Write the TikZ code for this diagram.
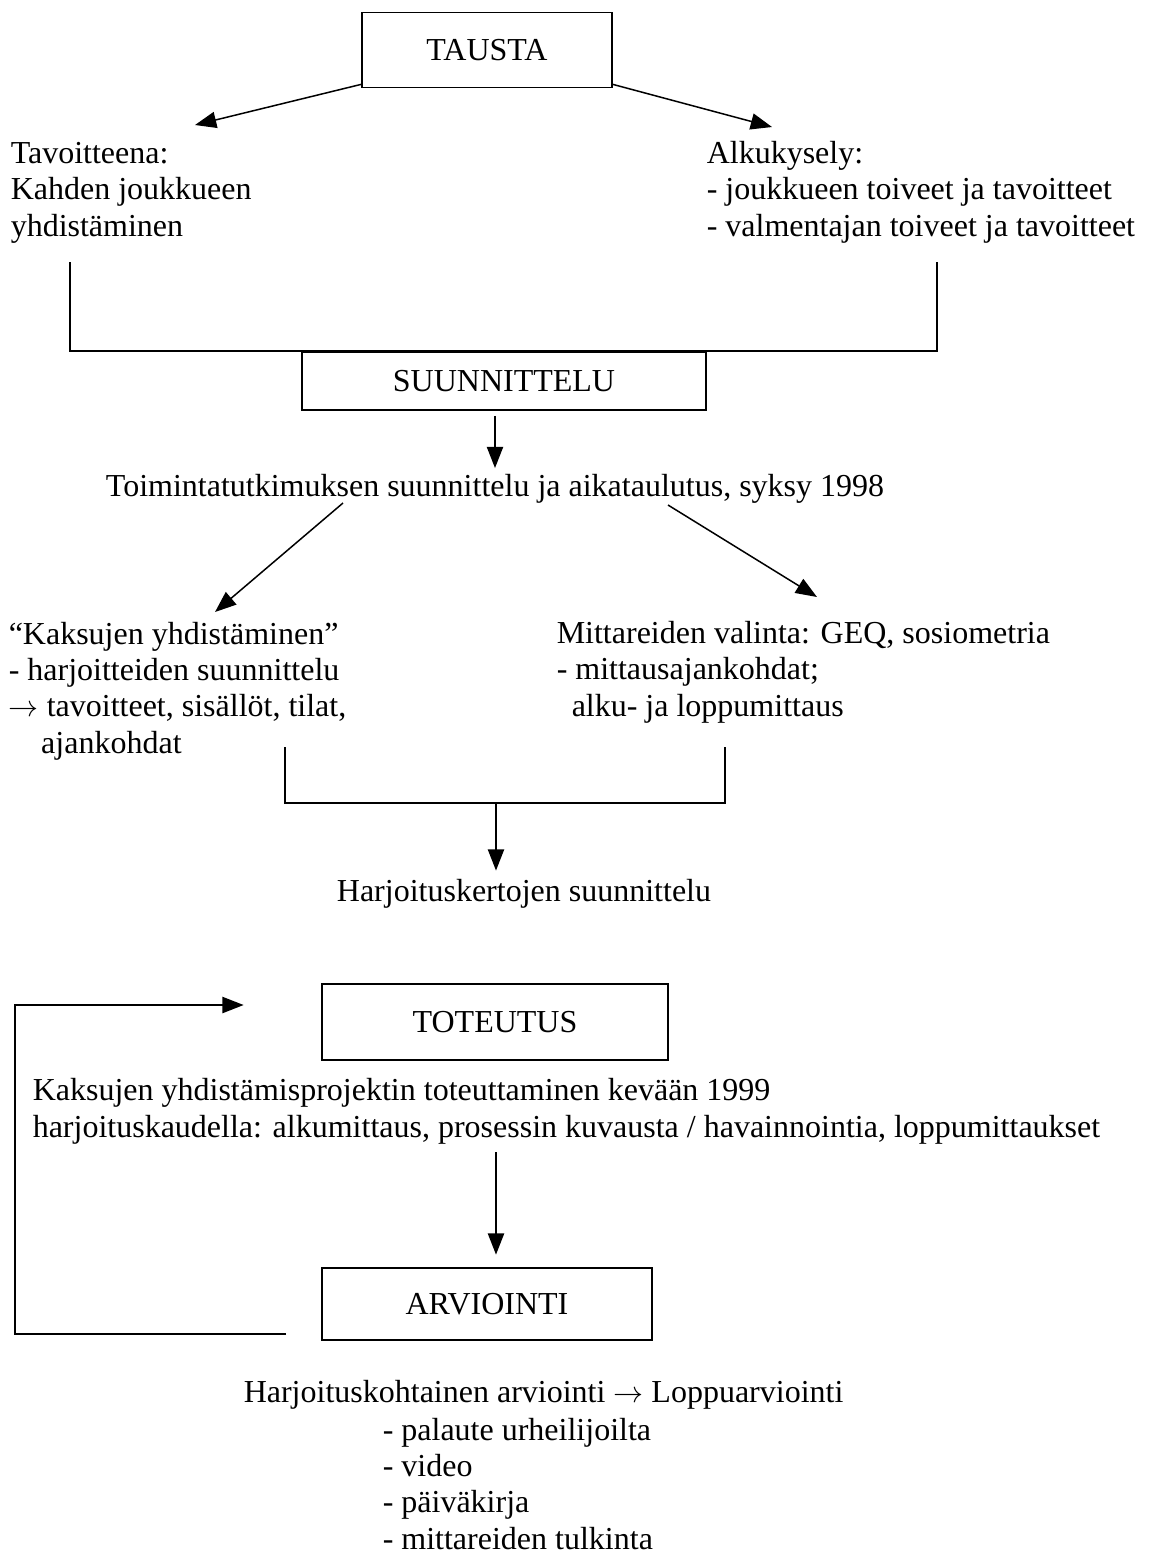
\documentclass[tikz,border=0pt]{standalone}
\usepackage{fontspec}
\setmainfont{Liberation Serif}
\usetikzlibrary{arrows.meta}

\begin{document}
\begin{tikzpicture}
[x=0.4pt,y=-0.4pt,line width=0.6pt,%
  >={Triangle[length=8.5pt,width=6.5pt]},%
  every node/.style={inner sep=0pt},%
  vaihe/.style={draw,line width=0.7pt,shape=rectangle},%
  teksti/.style={align=left,anchor=base west}]
\fontsize{12.8}{14.5}\selectfont
\useasboundingbox (0,0) rectangle (1150,1556);
% tausta
\node[vaihe,minimum width=100pt,minimum height=30pt] (tausta) at (487,50) {TAUSTA};
\node[teksti] (tavoite) at (10,236) {Tavoitteena:\\Kahden joukkueen\\yhdistäminen};
\node[teksti] (alku) at (706,236) {Alkukysely:\\- joukkueen toiveet ja tavoitteet\\- valmentajan toiveet ja tavoitteet};
\coordinate (tv) at (195,125);
\coordinate (ak) at (772,127);
\draw[->] ([yshift=1.6pt]tausta.south west) -- (tv);
\draw[->] ([yshift=1.6pt]tausta.south east) -- (ak);
% suunnittelu
\node[vaihe,minimum width=161.6pt,minimum height=23.2pt] (suun) at (504,381) {SUUNNITTELU};
\coordinate (v1) at (70,262);
\coordinate (o1) at (937,262);
\draw (v1) |- (suun.north) -| (o1);
\node[anchor=base] (toim) at (495,496) {Toimintatutkimuksen suunnittelu ja aikataulutus, syksy 1998};
\draw[->,shorten <=2pt,shorten >=2pt] (suun.south -| toim.north) -- (toim.north);
\coordinate (d1) at (343,503);
\coordinate (d2) at (215,612);
\coordinate (d3) at (668,505);
\coordinate (d4) at (817,597);
\draw[->] (d1) -- (d2);
\draw[->] (d3) -- (d4);
\node[teksti] (kaksut) at (8,753) {“Kaksujen yhdistäminen”\\- harjoitteiden suunnittelu\\$\rightarrow$ tavoitteet, sisällöt, tilat,\\\hspace*{13pt}ajankohdat};
\node[teksti] (mittarit) at (556,716) {Mittareiden valinta: GEQ, sosiometria\\- mittausajankohdat;\\\hspace*{6pt}alku- ja loppumittaus};
\coordinate (v2) at (285,747);
\coordinate (o2) at (725,747);
\coordinate (j2) at (496,803);
\draw (v2) |- (j2) -| (o2);
\node[anchor=base] (harj) at (524,901) {Harjoituskertojen suunnittelu};
\draw[->,shorten >=3pt] (j2) -- (j2 |- harj.north);
% toteutus
\node[vaihe,minimum width=138.4pt,minimum height=30.4pt] (tot) at (495,1022) {TOTEUTUS};
\node[teksti] (proj) at (32,1137) {Kaksujen yhdistämisprojektin toteuttaminen kevään 1999\\harjoituskaudella: alkumittaus, prosessin kuvausta / havainnointia, loppumittaukset};
% arviointi
\node[vaihe,minimum width=132pt,minimum height=28.8pt] (arv) at (487,1304) {ARVIOINTI};
\draw[->,shorten <=3pt,shorten >=5pt] (proj.south -| j2) -- (arv.north -| j2);
\coordinate (pal) at (15,1170);
\draw[->,shorten >=31pt] ([shift={(-14pt,2.8pt)}]arv.south west) -| (pal) |- ([yshift=6.8pt]tot.west);
\node[teksti] (arvi) at (243,1402) {Harjoituskohtainen arviointi $\rightarrow$ Loppuarviointi};
\node[teksti] (lista) at (382,1549) {- palaute urheilijoilta\\- video\\- päiväkirja\\- mittareiden tulkinta};
\end{tikzpicture}
\end{document}
